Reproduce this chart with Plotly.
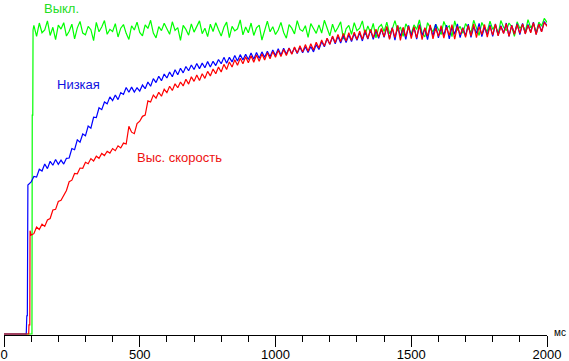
import plotly.graph_objects as go

# time grid (ms) shared by the noisy part of all three series
t_grid = list(range(110, 2001, 10))

# leading (pre-grid) samples: baseline and the step-up
green_t0 = [0, 103, 104, 106, 107]
green_v0 = [0, 0, 72, 72, 100]
blue_t0 = [0, 82, 84, 86, 88, 100]
blue_v0 = [0, 0, 6, 6, 49, 50]
red_t0 = [0, 91, 92, 95, 96, 100]
red_v0 = [0, 0, 3, 3, 34, 32.5]

green_v = [
    101.5, 97.9, 102.3, 99.1, 100.0, 103.0, 98.2, 100.9, 96.8, 101.6,
    100.3, 102.4, 98.0, 99.6, 101.9, 97.1, 100.7, 102.8, 99.0, 98.4,
    101.2, 100.1, 96.5, 102.5, 99.4, 101.0, 103.1, 98.6, 100.2, 99.5,
    102.1, 97.7, 100.6, 101.8, 98.9, 96.9, 101.4, 100.0, 102.6, 99.2,
    98.1, 101.7, 100.5, 103.2, 99.0, 97.4, 101.1, 99.8, 102.2, 100.4,
    98.6, 102.7, 99.9, 100.8, 96.6, 101.5, 100.2, 98.3, 102.0, 99.3,
    101.3, 103.0, 98.8, 100.6, 97.8, 101.9, 99.5, 102.4, 100.1, 98.0,
    100.9, 102.6, 97.5, 101.2, 99.7, 100.4, 103.3, 98.4, 101.0, 99.1,
    102.3, 98.2, 100.7, 101.6, 96.7, 100.3, 102.9, 99.4, 101.1, 98.5,
    100.0, 102.5, 99.2, 97.3, 101.8, 100.6, 98.7, 103.1, 100.2, 99.6,
    101.4, 97.6, 102.1, 100.5, 98.9, 101.7, 99.0, 103.2, 100.3, 98.1,
    101.9, 99.3, 100.8, 102.7, 97.0, 100.4, 101.5, 98.6, 102.4, 99.8,
    100.6, 103.0, 98.4, 101.3, 99.1, 102.2, 97.4, 100.9, 101.8, 99.5,
    102.6, 98.8, 100.3, 103.1, 99.6, 101.0, 97.9, 102.0, 100.5, 98.7,
    101.7, 100.2, 103.3, 99.0, 97.7, 102.4, 100.8, 99.4, 101.9, 100.1,
    98.5, 102.8, 100.6, 101.4, 97.8, 103.0, 99.9, 101.2, 98.9, 102.1,
    100.4, 99.1, 103.2, 101.0, 98.2, 102.5, 100.7, 99.5, 102.9, 100.2,
    101.6, 98.6, 103.1, 100.9, 99.8, 102.3, 101.1, 97.9, 102.7, 100.5,
    101.8, 99.4, 103.4, 100.7, 102.0, 99.2, 102.6, 101.3, 103.8, 102.5,
]

blue_v = [
    51.8, 51.6, 54.2, 53.6, 55.9, 54.4, 56.8, 55.5, 57.4, 55.8,
    57.2, 55.9, 57.8, 57.9, 61.0, 60.6, 63.9, 63.1, 65.8, 65.2,
    68.4, 67.7, 71.3, 71.2, 74.4, 73.8, 76.3, 75.7, 78.0, 76.8,
    78.6, 77.1, 79.4, 78.8, 81.1, 79.5, 81.2, 79.6, 81.0, 79.9,
    81.9, 80.7, 82.9, 81.5, 84.0, 82.7, 84.8, 83.3, 85.5, 84.2,
    86.2, 84.6, 86.9, 85.3, 87.4, 85.9, 88.0, 86.6, 88.5, 87.0,
    89.0, 87.3, 89.1, 87.6, 89.6, 87.8, 89.7, 88.3, 90.3, 88.9,
    91.0, 89.1, 91.0, 89.5, 91.6, 89.8, 91.9, 90.1, 92.0, 90.3,
    92.4, 90.4, 92.6, 90.7, 92.8, 91.0, 93.0, 91.2, 93.4, 91.6,
    93.8, 91.7, 94.0, 92.0, 94.1, 92.2, 94.2, 92.3, 94.3, 92.5,
    94.5, 92.6, 94.6, 92.8, 95.2, 93.6, 96.2, 94.5, 97.2, 95.3,
    97.8, 95.5, 97.9, 95.7, 98.2, 95.9, 98.4, 96.2, 98.8, 96.6,
    99.1, 96.4, 99.5, 97.0, 100.0, 96.9, 99.8, 97.3, 100.3, 97.6,
    101.0, 97.2, 100.8, 96.7, 101.4, 97.9, 100.6, 96.9, 101.5, 98.1,
    100.9, 97.0, 101.8, 98.2, 100.5, 96.8, 101.2, 98.0, 101.9, 97.4,
    100.7, 98.3, 101.6, 97.1, 101.0, 98.6, 102.0, 97.5, 100.8, 98.1,
    101.9, 97.6, 101.1, 98.9, 102.2, 97.8, 100.9, 98.4, 101.7, 97.9,
    102.0, 98.2, 101.4, 99.0, 102.3, 97.9, 101.6, 98.7, 102.1, 98.5,
    102.2, 98.8, 101.8, 99.3, 102.6, 98.6, 102.0, 99.5, 102.8, 101.5,
]

red_v = [
    33.0, 35.2, 34.4, 36.1, 35.4, 37.5, 38.0, 40.8, 41.0, 43.6,
    44.0, 45.6, 47.2, 50.1, 50.6, 52.8, 52.7, 54.6, 54.5, 56.5,
    56.0, 57.7, 56.9, 58.5, 57.8, 59.4, 58.7, 60.1, 59.5, 61.0,
    60.3, 61.9, 61.2, 62.8, 62.5, 68.3, 66.4, 65.9, 69.2, 70.0,
    71.6, 72.0, 76.7, 76.3, 78.6, 77.6, 79.5, 78.2, 80.5, 79.4,
    81.5, 80.1, 82.3, 81.0, 82.9, 81.6, 83.8, 82.2, 84.6, 83.1,
    85.2, 83.4, 85.6, 84.1, 86.4, 84.9, 87.2, 85.6, 87.8, 86.2,
    88.7, 87.0, 89.5, 87.8, 90.2, 88.4, 90.7, 88.9, 91.2, 89.2,
    91.5, 89.4, 91.8, 89.7, 92.1, 90.1, 92.5, 90.5, 92.9, 91.0,
    93.3, 91.3, 93.6, 91.6, 94.0, 92.0, 94.4, 92.4, 94.8, 92.8,
    95.2, 93.0, 95.5, 93.4, 96.0, 94.1, 96.7, 94.7, 97.3, 95.3,
    98.0, 95.8, 98.5, 96.2, 98.9, 96.4, 99.1, 96.6, 99.3, 96.9,
    99.6, 96.9, 100.1, 97.2, 100.2, 97.5, 100.3, 97.7, 100.5, 97.8,
    101.2, 96.9, 100.7, 97.5, 101.5, 96.6, 100.9, 97.8, 101.3, 97.2,
    101.0, 97.4, 101.6, 96.8, 100.8, 98.0, 101.7, 97.1, 100.6, 97.9,
    101.4, 97.3, 100.9, 98.2, 101.8, 97.0, 101.2, 98.4, 100.7, 97.6,
    101.5, 98.0, 102.0, 97.5, 101.1, 98.5, 101.8, 97.7, 101.3, 98.3,
    101.9, 98.1, 101.2, 98.8, 102.1, 97.9, 101.5, 98.6, 101.8, 98.9,
    102.0, 98.7, 101.6, 99.1, 102.4, 98.5, 101.9, 99.4, 102.5, 101.2,
]

labels = {"green": "Выкл.", "blue": "Низкая", "red": "Выс. скорость"}
x_ticks = [0, 500, 1000, 1500, 2000]
unit = "мс"

fig = go.Figure()
series = [
    ("green", "#00ff00", green_t0, green_v0, green_v),
    ("blue", "#0000ff", blue_t0, blue_v0, blue_v),
    ("red", "#ff0000", red_t0, red_v0, red_v),
]
for key, col, t0, v0, v in series:
    fig.add_trace(go.Scatter(
        x=t0 + t_grid, y=v0 + v, mode="lines",
        line=dict(color=col, width=1.2),
        name=labels[key], showlegend=False, hoverinfo="skip",
    ))

font_family = "Liberation Sans, Arial, sans-serif"
fig.add_annotation(x=210, y=1, xref="x", yref="paper", yanchor="top", text=labels["green"],
                   showarrow=False, borderpad=0,
                   font=dict(family=font_family, size=13, color="#22dd22"))
fig.add_annotation(x=276, y=82.2, xref="x", yref="y", text=labels["blue"],
                   showarrow=False, font=dict(family=font_family, size=13, color="#1010e0"))
fig.add_annotation(x=648, y=57.9, xref="x", yref="y", text=labels["red"],
                   showarrow=False, font=dict(family=font_family, size=13, color="#ee1111"))
fig.add_annotation(x=2000, y=0, xref="x", yref="y", text=unit, xanchor="left",
                   xshift=5, yshift=2, showarrow=False,
                   font=dict(family=font_family, size=10, color="#000000"))

fig.update_layout(
    width=569, height=361,
    margin=dict(l=4, r=22, t=0, b=26, autoexpand=False),
    paper_bgcolor="white", plot_bgcolor="white",
    xaxis=dict(
        range=[0, 2000], tickvals=x_ticks, ticktext=[str(v) for v in x_ticks],
        automargin=False,
        showgrid=False, zeroline=False, showline=True, linecolor="black", linewidth=1,
        ticks="outside", ticklen=11, tickcolor="black", tickwidth=1,
        minor=dict(dtick=100, ticks="outside", ticklen=6, tickcolor="black", tickwidth=1, showgrid=False),
        tickfont=dict(family=font_family, size=13, color="black"),
        ticklabelstandoff=-4,
    ),
    yaxis=dict(range=[-0.33, 109.87], visible=False, showgrid=False, zeroline=False,
               automargin=False),
)

fig.write_html(
    "out.html",
    config={"displayModeBar": False},
    post_script="document.body.style.margin='0';document.body.style.overflow='hidden';",
)
